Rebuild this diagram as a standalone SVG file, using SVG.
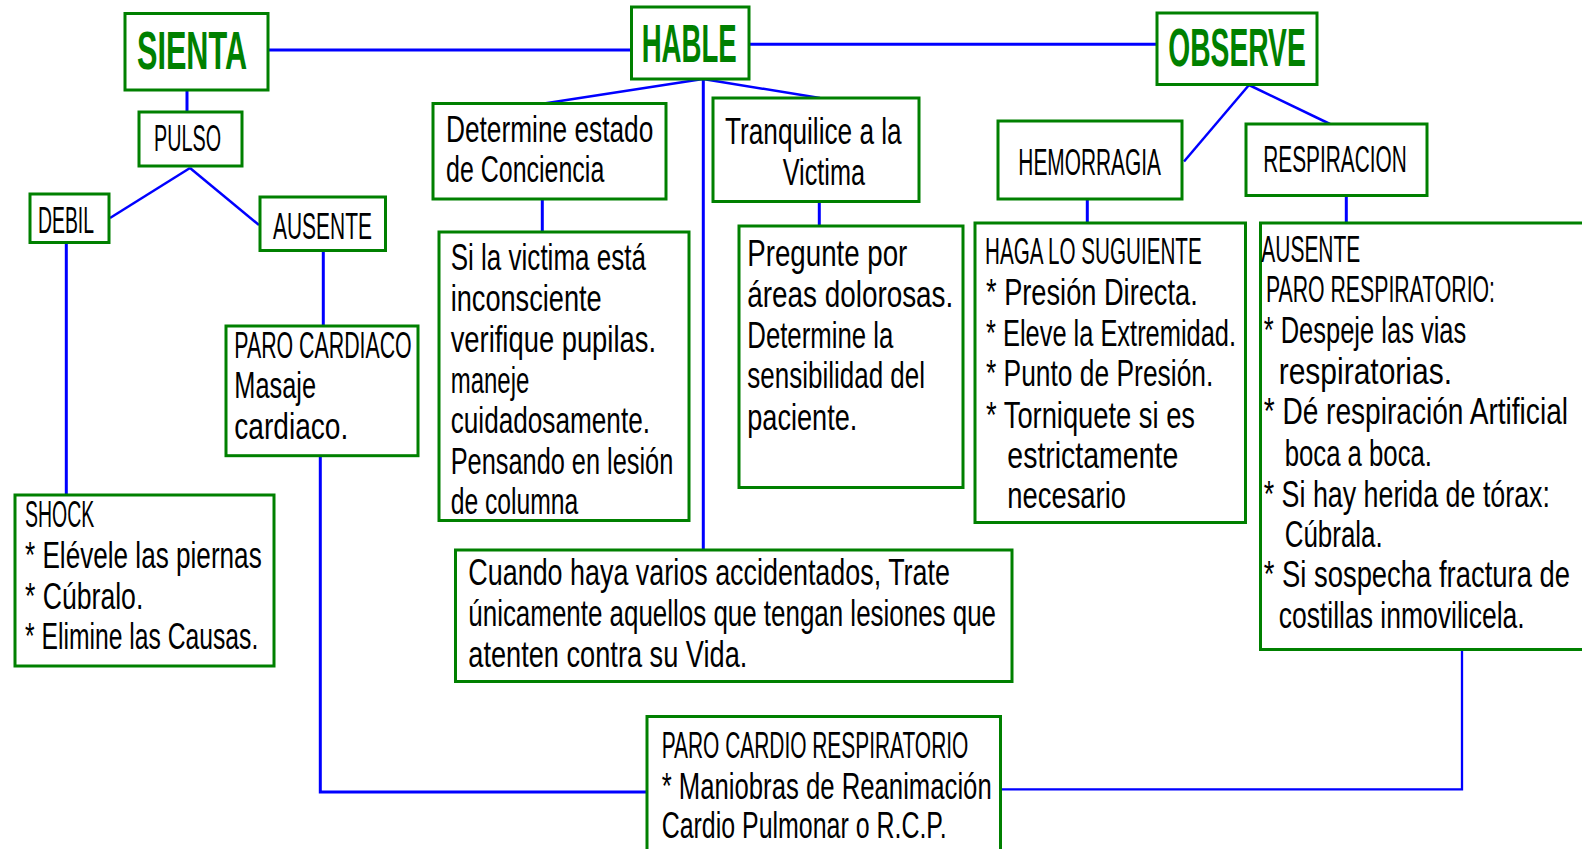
<svg xmlns="http://www.w3.org/2000/svg" width="1582" height="849" viewBox="0 0 1582 849">
<style>
.box{fill:#fff;stroke:#008000;stroke-width:3}
.t{font-family:"Liberation Sans Narrow","Liberation Sans",Arial,sans-serif;font-size:36px;fill:#000}
.h{font-family:"Liberation Sans Narrow","Liberation Sans",Arial,sans-serif;font-size:53px;font-weight:bold;fill:#008000}
.c{stroke:#0000FF;stroke-width:3;fill:none}
.d{stroke:#0000FF;stroke-width:2.5;fill:none}
</style>
<rect x="0" y="0" width="1582" height="849" fill="#fff"/>
<g id="connectors">
<line class="c" x1="268" y1="50" x2="631.5" y2="50"/>
<line class="c" x1="749" y1="44.3" x2="1157" y2="44.3"/>
<line class="c" x1="187" y1="90" x2="187" y2="112"/>
<line class="d" x1="190" y1="168" x2="110" y2="218"/>
<line class="d" x1="190" y1="168" x2="259" y2="225"/>
<line class="c" x1="66.3" y1="242.5" x2="66.3" y2="495"/>
<line class="c" x1="323.3" y1="250.5" x2="323.3" y2="326"/>
<polyline class="c" points="320.3,455.7 320.3,792 647,792"/>
<line class="d" x1="703" y1="79" x2="544" y2="103.5"/>
<line class="d" x1="703" y1="79" x2="820" y2="98"/>
<line class="c" x1="703.3" y1="79" x2="703.3" y2="550"/>
<line class="c" x1="542.3" y1="199" x2="542.3" y2="232"/>
<line class="c" x1="819.3" y1="201.5" x2="819.3" y2="226"/>
<line class="d" x1="1249" y1="85" x2="1184" y2="161.5"/>
<line class="d" x1="1249" y1="85" x2="1330" y2="124"/>
<line class="c" x1="1087.3" y1="199" x2="1087.3" y2="223"/>
<line class="c" x1="1346.3" y1="195.5" x2="1346.3" y2="223"/>
<polyline class="c" style="stroke-width:2.3" points="1462,649.5 1462,789.3 1000.5,789.3"/>
</g>
<g id="sienta">
<rect class="box" x="125" y="13.5" width="143" height="76.5"/>
<text class="h" x="137" y="69" textLength="110" lengthAdjust="spacingAndGlyphs">SIENTA</text>
</g>
<g id="hable">
<rect class="box" x="631.5" y="7" width="117.5" height="72"/>
<text class="h" x="641.7" y="61.7" textLength="95" lengthAdjust="spacingAndGlyphs">HABLE</text>
</g>
<g id="observe">
<rect class="box" x="1157" y="13" width="160" height="71.5"/>
<text class="h" x="1168.3" y="65.7" textLength="137.4" lengthAdjust="spacingAndGlyphs">OBSERVE</text>
</g>
<g id="pulso">
<rect class="box" x="139" y="112" width="103" height="54"/>
<text class="t" x="154" y="150.7" textLength="67" lengthAdjust="spacingAndGlyphs">PULSO</text>
</g>
<g id="debil">
<rect class="box" x="30" y="194" width="79" height="48.5"/>
<text class="t" x="38" y="233" textLength="56" lengthAdjust="spacingAndGlyphs">DEBIL</text>
</g>
<g id="ausente">
<rect class="box" x="260" y="197" width="125.5" height="53.5"/>
<text class="t" x="273" y="239" textLength="99" lengthAdjust="spacingAndGlyphs">AUSENTE</text>
</g>
<g id="determine">
<rect class="box" x="433" y="103.5" width="233" height="95.5"/>
<text class="t" x="446" y="141.7" textLength="207.3" lengthAdjust="spacingAndGlyphs">Determine estado</text>
<text class="t" x="446" y="181.7" textLength="158.3" lengthAdjust="spacingAndGlyphs">de Conciencia</text>
</g>
<g id="tranquilice">
<rect class="box" x="713" y="98" width="206" height="103.5"/>
<text class="t" x="725" y="144.3" textLength="176.7" lengthAdjust="spacingAndGlyphs">Tranquilice a la</text>
<text class="t" x="782.7" y="185" textLength="82.3" lengthAdjust="spacingAndGlyphs">Victima</text>
</g>
<g id="hemorragia">
<rect class="box" x="998" y="121" width="184" height="78"/>
<text class="t" x="1018.3" y="175" textLength="142.7" lengthAdjust="spacingAndGlyphs">HEMORRAGIA</text>
</g>
<g id="respiracion">
<rect class="box" x="1246" y="124" width="181" height="71.5"/>
<text class="t" x="1263.3" y="172.3" textLength="143.4" lengthAdjust="spacingAndGlyphs">RESPIRACION</text>
</g>
<g id="paro-cardiaco">
<rect class="box" x="226" y="326" width="192" height="129.7"/>
<text class="t" x="234.3" y="358.3" textLength="177.4" lengthAdjust="spacingAndGlyphs">PARO CARDIACO</text>
<text class="t" x="234.3" y="398.3" textLength="81.7" lengthAdjust="spacingAndGlyphs">Masaje</text>
<text class="t" x="234.3" y="439" textLength="114" lengthAdjust="spacingAndGlyphs">cardiaco.</text>
</g>
<g id="shock">
<rect class="box" x="15" y="495" width="259" height="171"/>
<text class="t" x="25" y="526.7" textLength="69.3" lengthAdjust="spacingAndGlyphs">SHOCK</text>
<text class="t" x="25" y="568.3" textLength="236.7" lengthAdjust="spacingAndGlyphs">* Elévele las piernas</text>
<text class="t" x="25" y="609" textLength="118.3" lengthAdjust="spacingAndGlyphs">* Cúbralo.</text>
<text class="t" x="25" y="649.3" textLength="233.3" lengthAdjust="spacingAndGlyphs">* Elimine las Causas.</text>
</g>
<g id="victima">
<rect class="box" x="439" y="232" width="250" height="288.5"/>
<text class="t" x="450.7" y="270" textLength="195.3" lengthAdjust="spacingAndGlyphs">Si la victima está</text>
<text class="t" x="450.7" y="310.7" textLength="151" lengthAdjust="spacingAndGlyphs">inconsciente</text>
<text class="t" x="450.7" y="351.7" textLength="205.3" lengthAdjust="spacingAndGlyphs">verifique pupilas.</text>
<text class="t" x="450.7" y="392.7" textLength="78.6" lengthAdjust="spacingAndGlyphs">maneje</text>
<text class="t" x="450.7" y="433.3" textLength="199.3" lengthAdjust="spacingAndGlyphs">cuidadosamente.</text>
<text class="t" x="450.7" y="474" textLength="222.6" lengthAdjust="spacingAndGlyphs">Pensando en lesión</text>
<text class="t" x="450.7" y="514.3" textLength="127.6" lengthAdjust="spacingAndGlyphs">de columna</text>
</g>
<g id="pregunte">
<rect class="box" x="739" y="226" width="224" height="261.5"/>
<text class="t" x="747.3" y="265.7" textLength="160" lengthAdjust="spacingAndGlyphs">Pregunte por</text>
<text class="t" x="747.3" y="306.7" textLength="206" lengthAdjust="spacingAndGlyphs">áreas dolorosas.</text>
<text class="t" x="747.3" y="347.7" textLength="146" lengthAdjust="spacingAndGlyphs">Determine la</text>
<text class="t" x="747.3" y="388.3" textLength="177.7" lengthAdjust="spacingAndGlyphs">sensibilidad del</text>
<text class="t" x="747.3" y="430" textLength="110" lengthAdjust="spacingAndGlyphs">paciente.</text>
</g>
<g id="haga">
<rect class="box" x="975" y="223" width="270.5" height="299.5"/>
<text class="t" x="985" y="264" textLength="216.7" lengthAdjust="spacingAndGlyphs">HAGA LO SUGUIENTE</text>
<text class="t" x="986" y="305" textLength="211.7" lengthAdjust="spacingAndGlyphs">* Presión Directa.</text>
<text class="t" x="986" y="345.7" textLength="250" lengthAdjust="spacingAndGlyphs">* Eleve la Extremidad.</text>
<text class="t" x="986" y="386" textLength="227.3" lengthAdjust="spacingAndGlyphs">* Punto de Presión.</text>
<text class="t" x="986" y="427.7" textLength="209" lengthAdjust="spacingAndGlyphs">* Torniquete si es</text>
<text class="t" x="1007.3" y="468.3" textLength="171" lengthAdjust="spacingAndGlyphs">estrictamente</text>
<text class="t" x="1007.3" y="508.3" textLength="118.7" lengthAdjust="spacingAndGlyphs">necesario</text>
</g>
<g id="paro-respiratorio">
<rect class="box" x="1260.5" y="223" width="323" height="426.5"/>
<text class="t" x="1261.3" y="261.7" textLength="99" lengthAdjust="spacingAndGlyphs">AUSENTE</text>
<text class="t" x="1266" y="301.7" textLength="229" lengthAdjust="spacingAndGlyphs">PARO RESPIRATORIO:</text>
<text class="t" x="1263.7" y="342.7" textLength="202.6" lengthAdjust="spacingAndGlyphs">* Despeje las vias</text>
<text class="t" x="1278.7" y="384" textLength="173.3" lengthAdjust="spacingAndGlyphs">respiratorias.</text>
<text class="t" x="1263.7" y="424" textLength="304.3" lengthAdjust="spacingAndGlyphs">* Dé respiración Artificial</text>
<text class="t" x="1284.7" y="466" textLength="147.3" lengthAdjust="spacingAndGlyphs">boca a boca.</text>
<text class="t" x="1263.7" y="506.7" textLength="286.3" lengthAdjust="spacingAndGlyphs">* Si hay herida de tórax:</text>
<text class="t" x="1284.7" y="547" textLength="98" lengthAdjust="spacingAndGlyphs">Cúbrala.</text>
<text class="t" x="1263.7" y="587" textLength="306.3" lengthAdjust="spacingAndGlyphs">* Si sospecha fractura de</text>
<text class="t" x="1278.7" y="628" textLength="246" lengthAdjust="spacingAndGlyphs">costillas inmovilicela.</text>
</g>
<g id="cuando">
<rect class="box" x="455.5" y="550" width="556.5" height="131.5"/>
<text class="t" x="468.3" y="585" textLength="481.7" lengthAdjust="spacingAndGlyphs">Cuando haya varios accidentados, Trate</text>
<text class="t" x="468.3" y="626" textLength="527.7" lengthAdjust="spacingAndGlyphs">únicamente aquellos que tengan lesiones que</text>
<text class="t" x="468.3" y="666.7" textLength="279" lengthAdjust="spacingAndGlyphs">atenten contra su Vida.</text>
</g>
<g id="paro-cardio-respiratorio">
<rect class="box" x="647" y="716.5" width="353.5" height="134"/>
<text class="t" x="661.7" y="758.3" textLength="306.6" lengthAdjust="spacingAndGlyphs">PARO CARDIO RESPIRATORIO</text>
<text class="t" x="661.7" y="799.3" textLength="330" lengthAdjust="spacingAndGlyphs">* Maniobras de Reanimación</text>
<text class="t" x="661.7" y="838.3" textLength="285" lengthAdjust="spacingAndGlyphs">Cardio Pulmonar o R.C.P.</text>
</g>
</svg>
